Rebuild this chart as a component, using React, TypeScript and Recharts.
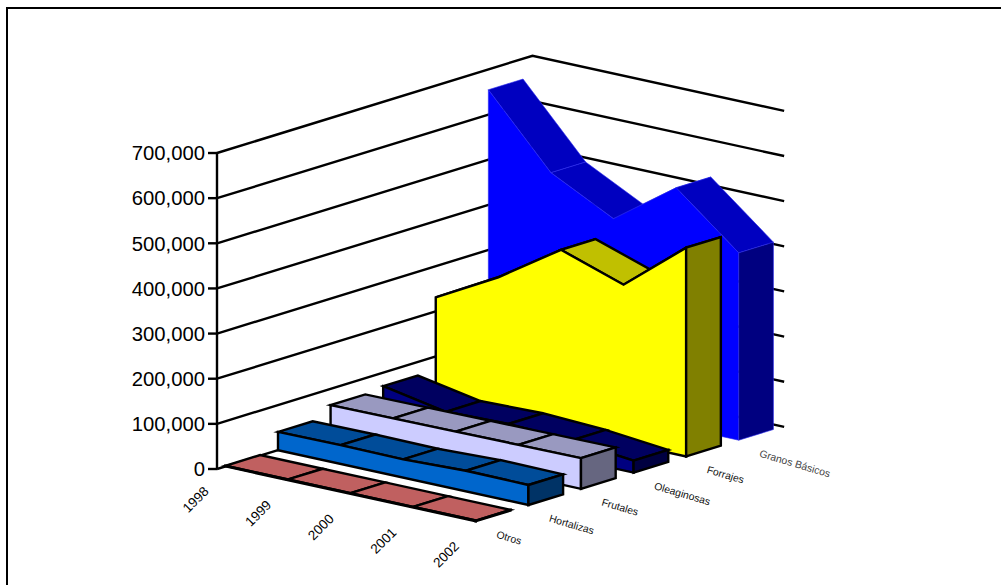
import { ComposedChart, Line, XAxis, YAxis } from "recharts";

const years = ["1998", "1999", "2000", "2001", "2002"];
const otros = [1500, 1500, 1500, 1500, 1500];
const hortalizas = [40500, 41500, 40300, 45500, 44300];
const frutales = [64000, 65000, 66000, 67000, 68000];
const oleaginosas = [70000, 43700, 47000, 40600, 26600];
const forrajes = [231000, 305800, 397000, 350000, 462300];
const granosBasicos = [655000, 501600, 430000, 529000, 415000];
const valueTicks = [0, 100000, 200000, 300000, 400000, 500000, 600000, 700000];

const FONT = "'Liberation Sans', Arial, sans-serif";

// oblique projection, x in year steps and y in value units
const X_PER_DEPTH = 0.84;
const V_PER_YEAR = -30350;
const V_PER_DEPTH = 35890;
const FRONT = 0.16;
const BACK = 0.82;
const EDGE = 2.4;

const project = (year: number, depth: number, value: number) => ({
  x: year + depth * X_PER_DEPTH,
  y: value + year * V_PER_YEAR + depth * V_PER_DEPTH,
});

type Pt = { x: number; y: number };
type Colors = { front: string; top: string; side: string; stroke: string; width: number };

const series = [
  { name: "Granos Básicos", values: granosBasicos, colors: { front: "#0000ff", top: "#0000c0", side: "#000080", stroke: "#2a2aee", width: 0.6 } },
  { name: "Forrajes", values: forrajes, colors: { front: "#ffff00", top: "#c0c000", side: "#808000", stroke: "#000", width: EDGE } },
  { name: "Oleaginosas", values: oleaginosas, colors: { front: "#000080", top: "#000060", side: "#000040", stroke: "#000", width: EDGE } },
  { name: "Frutales", values: frutales, colors: { front: "#ccccff", top: "#9999c0", side: "#666680", stroke: "#000", width: EDGE } },
  { name: "Hortalizas", values: hortalizas, colors: { front: "#0066cc", top: "#004c99", side: "#003366", stroke: "#000", width: EDGE } },
  { name: "Otros", values: otros, colors: { front: "#c06060", top: "#c06060", side: "#602f2f", stroke: "#000", width: EDGE } },
];

// every face goes through the chart scales as a line, its first dot draws the outline
const face = (key: string, data: Pt[], fill: string, stroke: string, width: number, closed = true) => (
  <Line
    key={key}
    data={data}
    dataKey="y"
    stroke="none"
    legendType="none"
    isAnimationActive={false}
    dot={(p: any) => {
      if (p.index !== 0) return <g key={p.key} />;
      const pts = p.points.map((q: any) => `${q.x},${q.y}`).join(" ");
      return closed ? (
        <polygon key={p.key} points={pts} fill={fill} stroke={stroke} strokeWidth={width} />
      ) : (
        <polyline key={p.key} points={pts} fill="none" stroke={stroke} strokeWidth={width} />
      );
    }}
  />
);

const seriesFaces = (name: string, values: number[], depth: number, c: Colors) => {
  const d0 = depth + FRONT;
  const d1 = depth + BACK;
  const last = values.length - 1;
  const tops = values.slice(0, last).map((v, i) =>
    face(
      `${name}-top-${i}`,
      [project(i, d0, v), project(i + 1, d0, values[i + 1]), project(i + 1, d1, values[i + 1]), project(i, d1, v)],
      c.top,
      c.stroke,
      c.width,
    ),
  );
  const frontFace = [
    ...values.map((v, i) => project(i, d0, v)),
    project(last, d0, 0),
    project(0, d0, 0),
  ];
  const side = [
    project(last, d0, values[last]),
    project(last, d1, values[last]),
    project(last, d1, 0),
    project(last, d0, 0),
  ];
  return [
    ...tops,
    face(`${name}-front`, frontFace, c.front, c.stroke, c.width),
    face(`${name}-side`, side, c.side, c.stroke, c.width),
  ];
};

const wallLines = valueTicks.map((v) =>
  face(`wall-${v}`, [project(0, 0, v), project(0, 6, v), project(4.02, 6, v)], "none", "#000", EDGE, false),
);

const yearLabels = years.map((y, i) => ({ ...project(i, FRONT, 0), label: y }));
const seriesLabels = series.map((s, i) => ({
  ...project(years.length - 1, series.length - 1 - i + FRONT, 0),
  label: s.name,
}));

export default function App() {
  return (
    <div style={{ position: "absolute", left: 0, top: 0, width: 1001, height: 585, overflow: "hidden", background: "#fff" }}>
      <div style={{ position: "absolute", left: 6, top: 7, width: 1100, height: 700, borderLeft: "2px solid #000", borderTop: "2px solid #000" }} />
      <div style={{ position: "absolute", left: 0, top: 0 }}>
        <ComposedChart width={1001} height={585} margin={{ top: 0, right: 0, bottom: 0, left: 0 }}>
          <XAxis type="number" dataKey="x" domain={[0, 12.524]} hide />
          <YAxis
            type="number"
            width={217}
            domain={[-256978, 1038990]}
            ticks={valueTicks}
            interval={0}
            axisLine={false}
            tickSize={9}
            tickMargin={3}
            tickLine={{ stroke: "#000", strokeWidth: EDGE }}
            tick={{ fill: "#000", fontSize: 20.3, fontFamily: FONT }}
            tickFormatter={(v: number) => v.toLocaleString("en-US")}
          />
          {wallLines}
          {face("y-axis", [project(0, 0, 0), project(0, 0, 700000)], "none", "#000", EDGE, false)}
          {series.flatMap((s, i) => seriesFaces(s.name, s.values, series.length - 1 - i, s.colors))}
          <Line
            data={yearLabels}
            dataKey="y"
            stroke="none"
            legendType="none"
            isAnimationActive={false}
            dot={(p: any) => (
              <text
                key={p.key}
                x={p.cx - 29.7}
                y={p.cy + 33.3}
                textAnchor="middle"
                dominantBaseline="central"
                fontSize={13.5}
                fontFamily={FONT}
                fill="#000"
                transform={`rotate(-45 ${p.cx - 29.7} ${p.cy + 33.3})`}
              >
                {p.payload.label}
              </text>
            )}
          />
          <Line
            data={seriesLabels}
            dataKey="y"
            stroke="none"
            legendType="none"
            isAnimationActive={false}
            dot={(p: any) => (
              <text
                key={p.key}
                x={p.cx + 21}
                y={p.cy + 13}
                dominantBaseline="central"
                fontSize={10.4}
                fontFamily={FONT}
                fill={p.payload.label === "Granos Básicos" ? "#444" : "#111"}
                transform={`rotate(16.5 ${p.cx + 21} ${p.cy + 13})`}
              >
                {p.payload.label}
              </text>
            )}
          />
        </ComposedChart>
      </div>
    </div>
  );
}
